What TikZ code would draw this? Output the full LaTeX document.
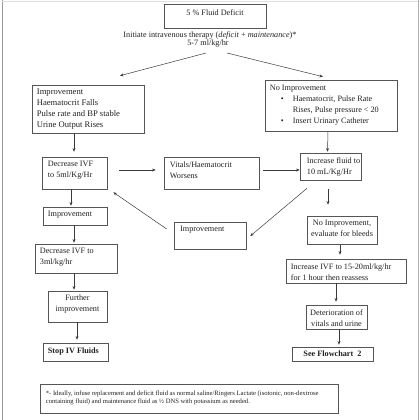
\documentclass[tikz,border=0pt]{standalone}
\usepackage{fontspec}
\setmainfont{Liberation Serif}
\usetikzlibrary{arrows.meta}
\definecolor{boxc}{HTML}{555555}
\definecolor{txtc}{HTML}{202020}
\definecolor{arrc}{HTML}{3A3A3A}
\tikzset{
  box/.style={draw=boxc, line width=0.6pt, rectangle, inner sep=0pt},
  txt/.style={text=txtc, font=\fontsize{8.2}{11}\selectfont, inner sep=0pt, align=left},
  ctxt/.style={txt, align=center},
  arr/.style={draw=arrc, line width=0.5pt, -{Stealth[length=3.6pt,width=3pt]}},
}
\begin{document}
\begin{tikzpicture}[x=1pt,y=-1pt]
\useasboundingbox (0,0) rectangle (420,420);
% outer frame
\draw[draw=gray!80, line width=1pt] (2,0) -- (2,420);
\draw[draw=gray!60, line width=0.8pt] (418,0) -- (418,420);
\draw[draw=gray!25, line width=0.6pt] (2,1.5) -- (418,1.5);

% top
\node[box, minimum width=102pt, minimum height=24pt] (top) at (215,16) {};
\node[txt, anchor=base] (toptxt) at (215,15.5) {5 \% Fluid Deficit};
\node[txt, anchor=base] (init) at (210,37.5) {Initiate intravenous therapy (\textit{deficit} + \textit{maintenance})*};
\node[txt, anchor=base] (rate) at (208,45.5) {5-7 ml/kg/hr};

% left improvement box
\node[box, minimum width=112pt, minimum height=48pt] (impL) at (88,109) {};
\node[txt, anchor=west, font=\fontsize{8.6}{11}\selectfont] (impLtxt) at ([shift={(5,0)}]impL.west)
  {Improvement\\Haematocrit Falls\\Pulse rate and BP stable\\Urine Output Rises};

% right no improvement box
\node[box, minimum width=132pt, minimum height=51pt] (noImp) at (331,105.5) {};
\node[txt, anchor=west] (noImptxt) at ([shift={(5,0)}]noImp.west)
  {No Improvement\\
   \hspace*{11pt}\makebox[12pt][l]{\textbullet}Haematocrit, Pulse Rate\\
   \hspace*{23pt}Rises, Pulse pressure < 20\\
   \hspace*{11pt}\makebox[12pt][l]{\textbullet}Insert Urinary Catheter};

% row 2
\node[box, minimum width=65pt, minimum height=32pt] (dec5) at (74.5,173) {};
\node[txt, anchor=west] (dec5txt) at ([shift={(6,-2.5)}]dec5.west) {Decrease IVF\\to 5ml/Kg/Hr};
\node[box, minimum width=95pt, minimum height=32pt] (vitals) at (211.5,173) {};
\node[txt, anchor=west] (vitalstxt) at ([shift={(6,-2.5)}]vitals.west) {Vitals/Haematocrit\\Worsens};
\node[box, minimum width=61pt, minimum height=27pt] (inc10) at (330.5,166.5) {};
\node[txt, anchor=west] (inc10txt) at ([shift={(7,0)}]inc10.west) {Increase fluid to\\10 mL/Kg/Hr};

% row 3
\node[box, minimum width=64pt, minimum height=18pt] (impL2) at (75,216) {};
\node[txt, anchor=west] (impL2txt) at ([shift={(5,-1)}]impL2.west) {Improvement};
\node[box, minimum width=72pt, minimum height=27pt] (impM) at (210,235.5) {};
\node[txt, anchor=base west] (impMtxt) at (180,231.5) {Improvement};
\node[box, minimum width=70pt, minimum height=28pt] (noImpB) at (342,230) {};
\node[ctxt] (noImpBtxt) at ([shift={(0,-1.5)}]noImpB.center) {No Improvement,\\evaluate for bleeds};

% row 4
\node[box, minimum width=82pt, minimum height=29pt] (dec3) at (76,258.5) {};
\node[txt, anchor=west] (dec3txt) at ([shift={(5,-1)}]dec3.west) {Decrease IVF to\\3ml/kg/hr};
\node[box, minimum width=120pt, minimum height=24pt] (inc15) at (346,271) {};
\node[txt, anchor=west] (inc15txt) at ([shift={(5,1)}]inc15.west) {Increase IVF to 15-20ml/kg/hr\\for 1 hour then reassess};

% row 5
\node[box, minimum width=59pt, minimum height=31pt] (further) at (77.5,306.5) {};
\node[ctxt] (furthertxt) at ([shift={(0,-2)}]further.center) {Further\\improvement};
\node[box, minimum width=61pt, minimum height=24pt] (deter) at (336.5,317) {};
\node[ctxt] (detertxt) at ([shift={(0,1)}]deter.center) {Deterioration of\\vitals and urine};

% row 6
\node[box, minimum width=65pt, minimum height=18pt] (stop) at (75.5,352) {};
\node[txt, anchor=west] (stoptxt) at ([shift={(5,0)}]stop.west) {\textbf{Stop IV Fluids}};
\node[box, minimum width=81pt, minimum height=14pt] (see) at (332.5,354) {};
\node[ctxt] (seetxt) at (see.center) {\textbf{See Flowchart\ \ 2}};

% footnote
\node[box, minimum width=298pt, minimum height=29pt] (foot) at (189,398.5) {};
\node[txt, anchor=west, font=\fontsize{6.6}{8}\selectfont] (foottxt) at ([shift={(6,-1)}]foot.west)
  {*- Ideally, infuse replacement and deficit fluid as normal saline/Ringers Lactate (isotonic, non-dextrose\\
   containing fluid) and maintenance fluid as ½ DNS with potassium as needed.};

% connectors
\draw[arr] ([shift={(-2,7.5)}]rate.base) -- ([shift={(32,-9)}]impL.north);
\draw[arr] ([shift={(19,7.5)}]rate.base) -- ([shift={(-8,-3)}]noImp.north);
\draw[arr] ([shift={(-14,0)}]impL.south) -- ([shift={(-0.5,-5)}]dec5.north);
\draw[arr] ([shift={(12,-3)}]dec5.east) -- ([shift={(-8,-3)}]vitals.west);
\draw[arr] ([shift={(4,-3)}]vitals.east) -- ([shift={(0,3.5)}]inc10.west);
\draw[arr] ([shift={(-3,0)}]noImp.south) -- ([shift={(-3,-1)}]inc10.north);
\draw[arr] ([shift={(-2.5,9)}]inc10.south) -- ([shift={(-14,-11)}]noImpB.north);
\draw[arr] ([shift={(-23.5,8)}]inc10.south) -- ([shift={(4,0.5)}]impM.east);
\draw[arr] ([shift={(-7,-6.5)}]impM.west) -- ([shift={(6,3)}]dec5.south east);
\draw[arr] ([shift={(-3.5,0)}]dec5.south) -- ([shift={(-4,-1)}]impL2.north);
\draw[arr] ([shift={(-1,0)}]impL2.south) -- ([shift={(-2,-1)}]dec3.north);
\draw[arr] ([shift={(-2,0)}]dec3.south) -- ([shift={(-3.5,-1)}]further.north);
\draw[arr] ([shift={(-0.5,0)}]further.south) -- ([shift={(1.5,-3)}]stop.north);
\draw[arr] ([shift={(-2,1)}]noImpB.south) -- ([shift={(-6,-4)}]inc15.north);
\draw[arr] ([shift={(-10,0)}]inc15.south) -- ([shift={(-0.5,-3)}]deter.north);
\draw[arr] ([shift={(2.5,0)}]deter.south) -- ([shift={(6.5,-2)}]see.north);
\end{tikzpicture}
\end{document}
